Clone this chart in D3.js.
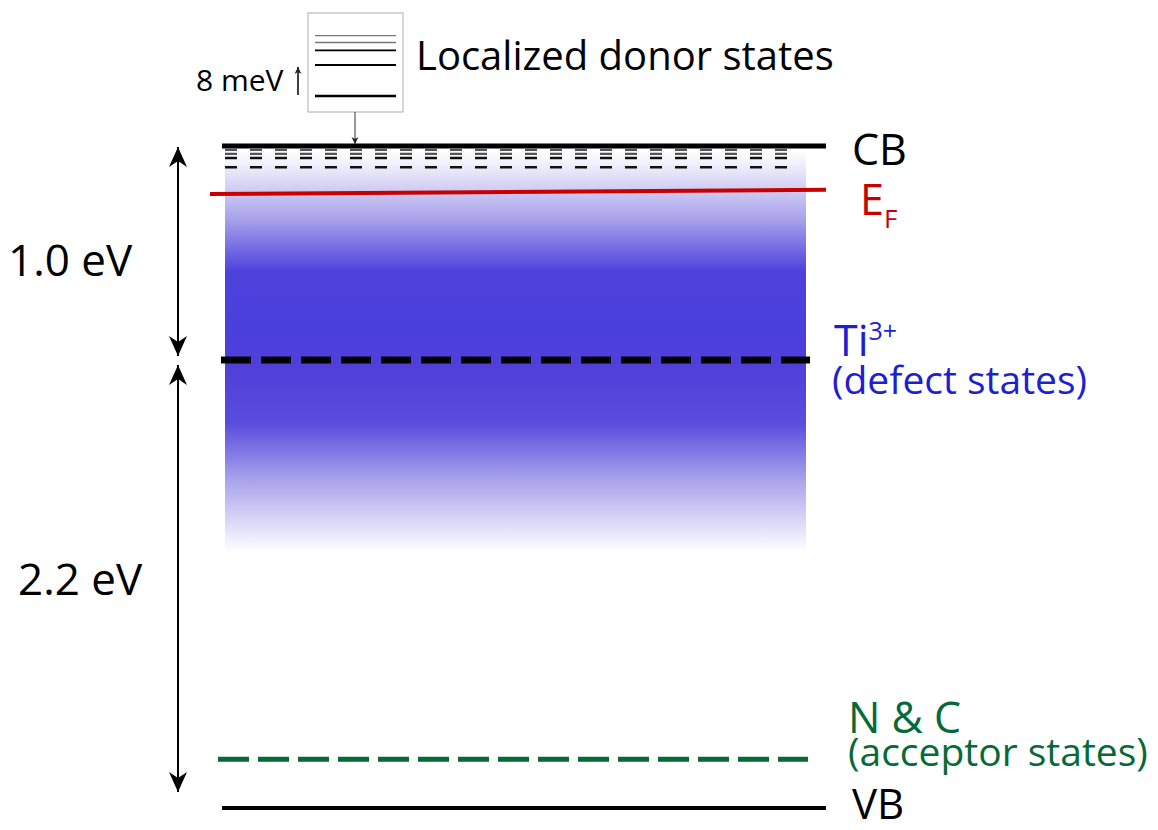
<!DOCTYPE html>
<html>
<head>
<meta charset="utf-8">
<script src="https://cdn.jsdelivr.net/npm/d3@7"></script>
<style>
  body { margin: 0; background: #fff; }
  svg text { font-family: "Open Sans", "Noto Sans", sans-serif; }
</style>
</head>
<body>
<svg id="chart" width="1158" height="830"></svg>
<script>
// energy levels (eV above valence band)
var levelNames = ["CB", "EF", "Ti3+", "N & C", "VB"]
var levelEnergy = [3.2, 2.985, 2.2, 0.24, 0]
var efEnergy = [2.976, 2.995]          // Fermi line is drawn slightly tilted
var donorLevels = [3.182, 3.163, 3.144, 3.101]   // shallow donor rows under CB
var gaps = [{ label: "1.0 eV", from: 3.2, to: 2.2 }, { label: "2.2 eV", from: 2.2, to: 0 }]
var insetMeV = [0, 8, 11.8, 13.8, 15.6]

var svg = d3.select("#chart")
var y = d3.scaleLinear().domain([0, 2.2, 3.2]).range([808, 360, 146])
var x = d3.scaleLinear().domain([0, 1]).range([222, 826])

var defs = svg.append("defs")

// blue density of states band
var grad = defs.append("linearGradient").attr("id", "band")
  .attr("x1", 0).attr("x2", 0).attr("y1", 0).attr("y2", 1)
var stops = [[0, "#ffffff"], [0.06, "#e4e2f8"], [0.17, "#a9a3ec"], [0.3, "#4f42dc"],
  [0.45, "#4b3fdc"], [0.55, "#5140da"], [0.68, "#5a4ddd"], [0.82, "#a8a2ec"], [1, "#ffffff"]]
stops.forEach(s => grad.append("stop").attr("offset", s[0]).attr("stop-color", s[1]))

svg.append("rect")
  .attr("x", 225).attr("y", y(3.18)).attr("width", 581).attr("height", 552 - y(3.18))
  .attr("fill", "url(#band)")

// arrow markers (tip sits on the line end)
defs.append("marker").attr("id", "head")
  .attr("viewBox", "-21 -10 22 20").attr("refX", 0).attr("refY", 0)
  .attr("markerWidth", 22).attr("markerHeight", 20)
  .attr("markerUnits", "userSpaceOnUse").attr("orient", "auto-start-reverse")
  .append("path").attr("d", "M0,0 L-20,-9 L-14,0 L-20,9 Z").attr("fill", "#000")
defs.append("marker").attr("id", "small")
  .attr("viewBox", "-8 -4 9 8").attr("refX", 0).attr("refY", 0)
  .attr("markerWidth", 9).attr("markerHeight", 8)
  .attr("markerUnits", "userSpaceOnUse").attr("orient", "auto-start-reverse")
  .append("path").attr("d", "M0,0 L-7,-3.5 L-5,0 L-7,3.5 Z").attr("fill", "#222")

// donor rows
donorLevels.forEach(function (e, i) {
  svg.append("line")
    .attr("x1", 225).attr("x2", 800).attr("y1", y(e)).attr("y2", y(e))
    .attr("stroke", i < 2 ? "#555" : "#111").attr("stroke-width", i < 2 ? 2.2 : 2.6)
    .attr("stroke-dasharray", "12 13")
})

// level lines
svg.append("line").attr("x1", x(0)).attr("x2", x(1)).attr("y1", y(levelEnergy[0])).attr("y2", y(levelEnergy[0]))
  .attr("stroke", "#000").attr("stroke-width", 5)
svg.append("line").attr("x1", 210).attr("x2", x(1)).attr("y1", y(efEnergy[0])).attr("y2", y(efEnergy[1]))
  .attr("stroke", "#c80000").attr("stroke-width", 4)
svg.append("line").attr("x1", 221).attr("x2", 810).attr("y1", y(levelEnergy[2])).attr("y2", y(levelEnergy[2]))
  .attr("stroke", "#000").attr("stroke-width", 7).attr("stroke-dasharray", "30 10")
svg.append("line").attr("x1", 218).attr("x2", 808).attr("y1", y(levelEnergy[3])).attr("y2", y(levelEnergy[3]))
  .attr("stroke", "#076a36").attr("stroke-width", 5).attr("stroke-dasharray", "31 9")
svg.append("line").attr("x1", x(0)).attr("x2", x(1)).attr("y1", y(levelEnergy[4])).attr("y2", y(levelEnergy[4]))
  .attr("stroke", "#000").attr("stroke-width", 4)

// gap arrows
gaps.forEach(function (g, i) {
  svg.append("line").attr("x1", 178).attr("x2", 178)
    .attr("y1", y(g.from) + (i ? 5 : 1)).attr("y2", y(g.to) - (i ? 16 : 4))
    .attr("stroke", "#000").attr("stroke-width", 2)
    .attr("marker-start", "url(#head)").attr("marker-end", "url(#head)")
  svg.append("text").attr("x", i ? 18 : 8).attr("y", i ? 595 : 276)
    .attr("font-size", 44).attr("fill", "#000").text(g.label)
})

// level labels
svg.append("text").attr("x", 852).attr("y", 165).attr("font-size", 43).text("CB")
var ef = svg.append("text").attr("x", 860).attr("y", 215).attr("font-size", 43).attr("fill", "#c80000")
ef.append("tspan").text("E")
ef.append("tspan").attr("dy", 13).attr("font-size", 26).text("F")
var ti = svg.append("text").attr("x", 834).attr("y", 356).attr("font-size", 43).attr("fill", "#1e1ed2")
ti.append("tspan").text("Ti")
ti.append("tspan").attr("dy", -16).attr("font-size", 25).text("3+")
svg.append("text").attr("x", 832).attr("y", 394).attr("font-size", 39).attr("fill", "#1e1ed2").text("(defect states)")
svg.append("text").attr("x", 848).attr("y", 733).attr("font-size", 43).attr("fill", "#076a36").text(levelNames[3])
svg.append("text").attr("x", 848).attr("y", 766).attr("font-size", 39).attr("fill", "#076a36").text("(acceptor states)")
svg.append("text").attr("x", 852).attr("y", 819).attr("font-size", 42).text(levelNames[4])

// inset of localized donor states
var yi = d3.scaleLinear().domain([0, 16]).range([96, 34])
svg.append("rect").attr("x", 308).attr("y", 13).attr("width", 95).attr("height", 99)
  .attr("fill", "#fff").attr("stroke", "#bbb").attr("stroke-width", 1.2)
insetMeV.forEach(function (m, i) {
  svg.append("line").attr("x1", 315).attr("x2", 396).attr("y1", yi(m)).attr("y2", yi(m))
    .attr("stroke", i > 2 ? "#777" : "#000").attr("stroke-width", [2.6, 2.2, 1.8, 1.6, 1.2][i])
})
svg.append("line").attr("x1", 355).attr("x2", 355).attr("y1", 112).attr("y2", 144)
  .attr("stroke", "#333").attr("stroke-width", 1).attr("marker-end", "url(#small)")
svg.append("line").attr("x1", 298).attr("x2", 298).attr("y1", yi(0) - 1).attr("y2", yi(8) + 2)
  .attr("stroke", "#000").attr("stroke-width", 1.5).attr("marker-end", "url(#small)")
svg.append("text").attr("x", 196).attr("y", 91).attr("font-size", 30).text("8 meV")
svg.append("text").attr("x", 416).attr("y", 70).attr("font-size", 40).text("Localized donor states")
</script>
</body>
</html>
